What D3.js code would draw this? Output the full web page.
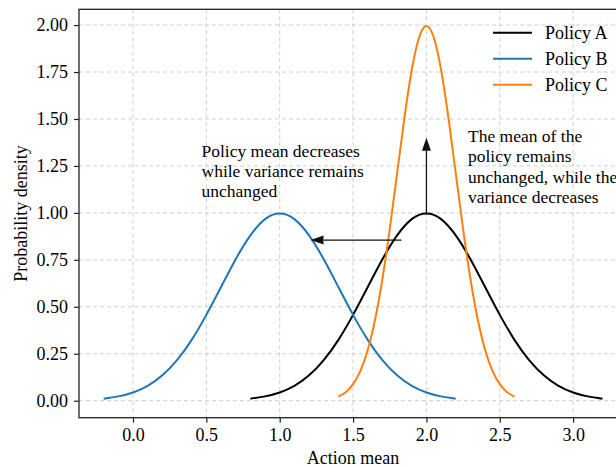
<!DOCTYPE html>
<html>
<head>
<meta charset="utf-8">
<script src="https://cdn.jsdelivr.net/npm/d3@7"></script>
<style>
  html, body { margin: 0; padding: 0; background: #fff; }
  svg { display: block; }
  text { font-family: "Liberation Serif", "Times New Roman", "DejaVu Serif", serif; fill: #000; }
</style>
</head>
<body>
<svg id="chart" width="616" height="467"></svg>
<script>
// Action values sampled along each policy curve
const xA = [0.8, 0.9, 1.0, 1.1, 1.2, 1.3, 1.4, 1.5, 1.6, 1.7, 1.8, 1.9, 2.0,
            2.1, 2.2, 2.3, 2.4, 2.5, 2.6, 2.7, 2.8, 2.9, 3.0, 3.1, 3.2];
const yA = [0.011, 0.023, 0.044, 0.079, 0.135, 0.216, 0.324, 0.457, 0.605, 0.753, 0.880, 0.967, 0.997,
            0.967, 0.880, 0.753, 0.605, 0.457, 0.324, 0.216, 0.135, 0.079, 0.044, 0.023, 0.011];

const xB = [-0.2, -0.1, 0.0, 0.1, 0.2, 0.3, 0.4, 0.5, 0.6, 0.7, 0.8, 0.9, 1.0,
            1.1, 1.2, 1.3, 1.4, 1.5, 1.6, 1.7, 1.8, 1.9, 2.0, 2.1, 2.2];
const yB = [0.011, 0.023, 0.044, 0.079, 0.135, 0.216, 0.324, 0.457, 0.605, 0.753, 0.880, 0.967, 0.997,
            0.967, 0.880, 0.753, 0.605, 0.457, 0.324, 0.216, 0.135, 0.079, 0.044, 0.023, 0.011];

const xC = [1.40, 1.45, 1.50, 1.55, 1.60, 1.65, 1.70, 1.75, 1.80, 1.85, 1.90, 1.95, 2.00,
            2.05, 2.10, 2.15, 2.20, 2.25, 2.30, 2.35, 2.40, 2.45, 2.50, 2.55, 2.60];
const yC = [0.022, 0.045, 0.088, 0.159, 0.270, 0.432, 0.648, 0.913, 1.210, 1.506, 1.761, 1.934, 1.995,
            1.934, 1.761, 1.506, 1.210, 0.913, 0.648, 0.432, 0.270, 0.159, 0.088, 0.045, 0.022];

const seriesNames = ["Policy A", "Policy B", "Policy C"];
const seriesColors = ["#000000", "#1f77b4", "#ff7f0e"];

const xTicks = [0.0, 0.5, 1.0, 1.5, 2.0, 2.5, 3.0];
const xTickLabels = ["0.0", "0.5", "1.0", "1.5", "2.0", "2.5", "3.0"];
const yTicks = [0.00, 0.25, 0.50, 0.75, 1.00, 1.25, 1.50, 1.75, 2.00];
const yTickLabels = ["0.00", "0.25", "0.50", "0.75", "1.00", "1.25", "1.50", "1.75", "2.00"];

// Annotation arrows: [from x, from y, to x, to y] in data units
const shiftArrow = [1.83, 0.855, 1.21, 0.855];
const narrowArrow = [2.0, 1.0, 2.0, 1.40];
const noteLeft = ["Policy mean decreases", "while variance remains", "unchanged"];
const noteRight = ["The mean of the", "policy remains", "unchanged, while the", "variance decreases"];

// Plot frame in pixels
const plotL = 79, plotR = 627, plotT = 9.3, plotB = 417.7;
const svg = d3.select("#chart");

const x = d3.scaleLinear().domain([-0.368, 3.367]).range([plotL, plotR]);
const y = d3.scaleLinear().domain([-0.0905, 2.084]).range([plotB, plotT]);

// Grid
const grid = svg.append("g").attr("class", "grid");
grid.selectAll("line.gx").data(xTicks).join("line")
  .attr("class", "gx")
  .attr("x1", d => x(d)).attr("x2", d => x(d))
  .attr("y1", plotT).attr("y2", plotB)
  .attr("stroke", "#cfcfcf").attr("stroke-width", 1)
  .attr("stroke-dasharray", "4,3");
grid.selectAll("line.gy").data(yTicks).join("line")
  .attr("class", "gy")
  .attr("x1", plotL).attr("x2", plotR)
  .attr("y1", d => y(d)).attr("y2", d => y(d))
  .attr("stroke", "#cfcfcf").attr("stroke-width", 1)
  .attr("stroke-dasharray", "4,3");

// Curves
const line = d3.line().x(d => x(d[0])).y(d => y(d[1])).curve(d3.curveNatural);
const series = [
  d3.zip(xA, yA),
  d3.zip(xB, yB),
  d3.zip(xC, yC)
];
series.forEach((pts, i) => {
  svg.append("path")
    .datum(pts)
    .attr("d", line)
    .attr("fill", "none")
    .attr("stroke", seriesColors[i])
    .attr("stroke-width", 2);
});

// Axes frame
svg.append("rect")
  .attr("x", plotL).attr("y", plotT)
  .attr("width", plotR - plotL).attr("height", plotB - plotT)
  .attr("fill", "none").attr("stroke", "#222").attr("stroke-width", 1.3);

// X axis
const xAxis = d3.axisBottom(x).tickValues(xTicks)
  .tickFormat((d, i) => xTickLabels[i]).tickSize(5).tickPadding(6);
const gx = svg.append("g").attr("transform", `translate(0,${plotB})`).call(xAxis);
gx.select(".domain").remove();
gx.selectAll(".tick line").attr("stroke", "#222").attr("stroke-width", 1.2);
gx.selectAll(".tick text")
  .style("font-family", '"Liberation Serif", "Times New Roman", serif')
  .style("font-size", "18px").attr("fill", "#000");

// Y axis
const yAxis = d3.axisLeft(y).tickValues(yTicks)
  .tickFormat((d, i) => yTickLabels[i]).tickSize(5).tickPadding(6);
const gy = svg.append("g").attr("transform", `translate(${plotL},0)`).call(yAxis);
gy.select(".domain").remove();
gy.selectAll(".tick line").attr("stroke", "#222").attr("stroke-width", 1.2);
gy.selectAll(".tick text")
  .style("font-family", '"Liberation Serif", "Times New Roman", serif')
  .style("font-size", "18px").attr("fill", "#000");

// Axis titles
svg.append("text")
  .attr("x", (plotL + plotR) / 2).attr("y", 464)
  .attr("text-anchor", "middle").style("font-size", "18px")
  .text("Action mean");
svg.append("text")
  .attr("transform", `translate(27,${(plotT + plotB) / 2}) rotate(-90)`)
  .attr("text-anchor", "middle").style("font-size", "18px")
  .text("Probability density");

// Legend
const legend = svg.append("g");
seriesNames.forEach((name, i) => {
  const ly = 32.7 + i * 26;
  legend.append("line")
    .attr("x1", 493).attr("x2", 532).attr("y1", ly).attr("y2", ly)
    .attr("stroke", seriesColors[i]).attr("stroke-width", 2);
  legend.append("text")
    .attr("x", 545).attr("y", ly + 6)
    .style("font-size", "18px")
    .text(name);
});

// Arrows with filled heads
function arrow(a) {
  const x1 = x(a[0]), y1 = y(a[1]), x2 = x(a[2]), y2 = y(a[3]);
  const dx = x2 - x1, dy = y2 - y1, len = Math.hypot(dx, dy);
  const ux = dx / len, uy = dy / len;
  const headLen = 13, headHalf = 4.5;
  const bx = x2 - ux * headLen, by = y2 - uy * headLen;
  svg.append("line")
    .attr("x1", x1).attr("y1", y1).attr("x2", bx).attr("y2", by)
    .attr("stroke", "#111").attr("stroke-width", 1.3);
  svg.append("path")
    .attr("d", `M${x2},${y2}L${bx - uy * headHalf},${by + ux * headHalf}L${bx + uy * headHalf},${by - ux * headHalf}Z`)
    .attr("fill", "#111");
}
arrow(shiftArrow);
arrow(narrowArrow);

// Notes
function note(lines, tx, ty) {
  const t = svg.append("text").attr("x", tx).attr("y", ty).style("font-size", "17.5px");
  lines.forEach((s, i) => {
    t.append("tspan").attr("x", tx).attr("dy", i === 0 ? 0 : 20.3).text(s);
  });
}
note(noteLeft, 201.5, 156.7);
note(noteRight, 468, 142);
</script>
</body>
</html>
